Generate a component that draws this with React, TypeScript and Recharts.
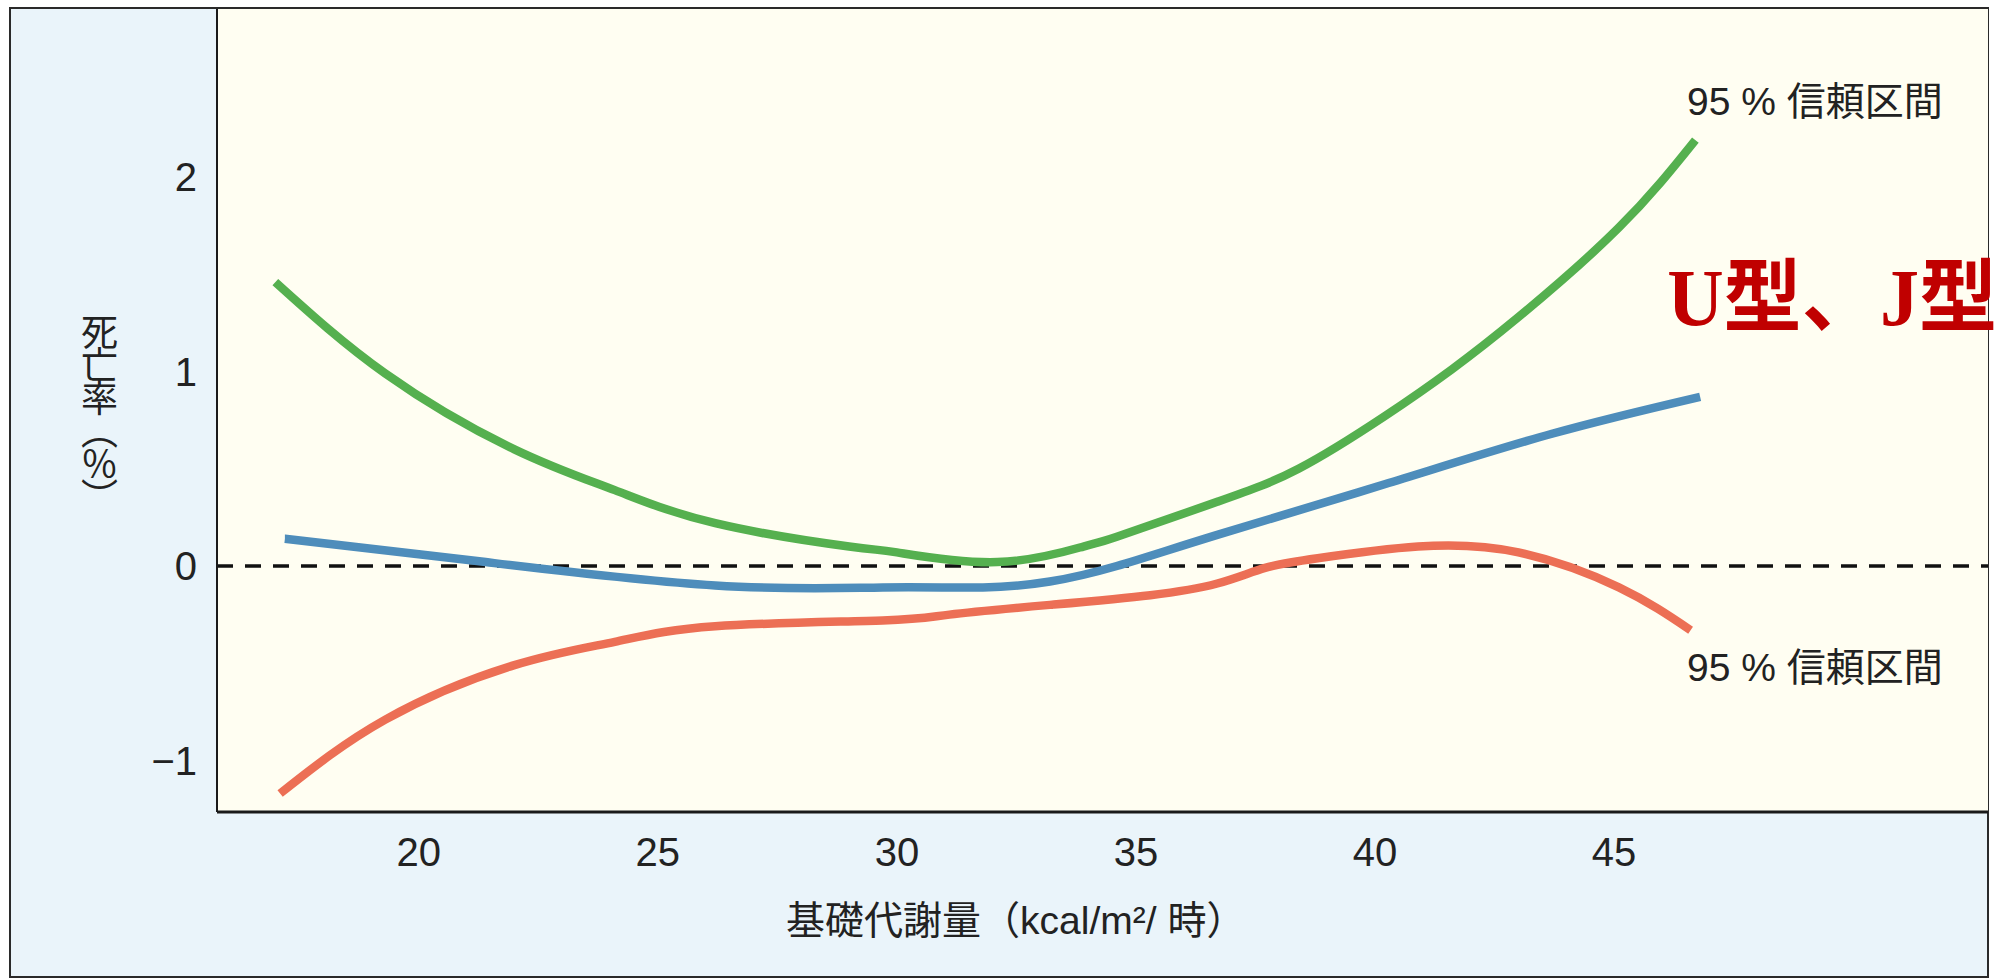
import React from 'react';
import { LineChart, Line, XAxis, YAxis, CartesianGrid, ReferenceLine, ReferenceDot } from 'recharts';

// x-axis: 基礎代謝量 (kcal/m²/時)
const xTicks = [20, 25, 30, 35, 40, 45];
const yTicks = [-1, 0, 1, 2];
const xDomain = [15.78, 52.82];
const yDomain = [-1.265, 2.864];

// upper 95% confidence bound (green)
const upperX = [17.0, 19.3, 22.0, 24.1, 26.2, 29.0, 30.0, 32.1, 33.9, 34.6, 36.7, 38.4, 40.2, 41.6, 43.0, 45.1, 46.7];
const upperY = [1.46, 0.99, 0.60, 0.39, 0.22, 0.10, 0.07, 0.02, 0.10, 0.15, 0.33, 0.50, 0.77, 1.01, 1.28, 1.74, 2.19];

// estimate (blue)
const meanX = [17.2, 18.6, 21.4, 26.2, 29.7, 31.8, 33.2, 34.6, 36.7, 40.2, 43.7, 46.8];
const meanY = [0.14, 0.10, 0.02, -0.10, -0.11, -0.11, -0.08, 0.0, 0.16, 0.42, 0.68, 0.87];

// lower 95% confidence bound (red)
const lowerX = [17.1, 19.3, 22.0, 24.1, 26.2, 29.7, 31.1, 33.2, 35.3, 36.7, 37.7, 38.8, 40.9, 43.0, 45.1, 46.6];
const lowerY = [-1.17, -0.79, -0.51, -0.39, -0.31, -0.28, -0.25, -0.20, -0.15, -0.09, -0.01, 0.04, 0.10, 0.07, -0.11, -0.33];

// annotations [x, y]
const upperLabelPos = [49.2, 2.386];
const lowerLabelPos = [49.2, -0.524];
const shapeLabelPos = [46.11, 1.239];

const ciLabel = '95 % 信頼区間';
const shapeLabel = 'U型、J型';
const xTitle = '基礎代謝量（kcal/m²/ 時）';
const yTitle = '死亡率（％）';

const toPoints = (xs: number[], ys: number[]) => xs.map((x, i) => ({ x, y: ys[i] }));
const upperData = toPoints(upperX, upperY);
const meanData = toPoints(meanX, meanY);
const lowerData = toPoints(lowerX, lowerY);

const SANS = '"Liberation Sans", Arial, "Noto Sans CJK JP", sans-serif';
const SERIF = '"Liberation Serif", "Times New Roman", "Noto Sans CJK JP", serif';

const fmtY = (v: number) => (v < 0 ? '\u2212' + Math.abs(v) : String(v));

const YTitle = (p: any) => {
  const vb = p.viewBox;
  return (
    <text
      x={vb.x - 1}
      y={vb.y + 403}
      textAnchor="middle"
      fontSize={37}
      letterSpacing={-4}
      fill="#222"
      fontFamily={SANS}
      style={{ writingMode: 'vertical-rl' } as any}
    >
      {yTitle}
    </text>
  );
};

const XTitle = (p: any) => {
  const vb = p.viewBox;
  return (
    <text
      x={vb.x + vb.width * 0.451}
      y={vb.y + 108}
      textAnchor="middle"
      dominantBaseline="central"
      fontSize={39}
      fill="#222"
      fontFamily={SANS}
    >
      {xTitle}
    </text>
  );
};

const CiText = (p: any) => (
  <text
    x={p.viewBox.x}
    y={p.viewBox.y}
    textAnchor="middle"
    dominantBaseline="central"
    fontSize={39}
    fill="#222"
    fontFamily={SANS}
  >
    {ciLabel}
  </text>
);

const ShapeText = (p: any) => (
  <text
    x={p.viewBox.x}
    y={p.viewBox.y}
    textAnchor="start"
    fontSize={80}
    fontWeight="bold"
    fill="#c00000"
    fontFamily={SERIF}
    textLength={330}
    lengthAdjust="spacingAndGlyphs"
  >
    {shapeLabel}
  </text>
);

const lineProps = {
  type: 'natural' as const,
  strokeWidth: 8.5,
  dot: false,
  activeDot: false,
  isAnimationActive: false,
  dataKey: 'y',
};

export default function App() {
  return (
    <div style={{ position: 'absolute', left: 0, top: 0, width: 2004, height: 979, overflow: 'hidden', background: '#fff' }}>
      <div
        style={{
          position: 'absolute',
          left: 9,
          top: 7,
          width: 1980,
          height: 971,
          boxSizing: 'border-box',
          border: '2px solid #2a2a2a',
          background: '#eaf4fa',
        }}
      />
      <div style={{ position: 'absolute', left: 0, top: 0 }}>
        <LineChart width={2004} height={979} margin={{ top: 9, right: 16, bottom: 87, left: 97 }}>
          <CartesianGrid horizontal={false} vertical={false} fill="#fffef2" />
          <XAxis
            type="number"
            dataKey="x"
            domain={xDomain}
            allowDataOverflow
            ticks={xTicks}
            height={80}
            tickLine={false}
            tickSize={0}
            tickMargin={26}
            axisLine={{ stroke: '#1a1a1a', strokeWidth: 3 }}
            tick={{ fontSize: 40, fill: '#222', fontFamily: SANS }}
            label={XTitle}
          />
          <YAxis
            type="number"
            dataKey="y"
            domain={yDomain}
            allowDataOverflow
            ticks={yTicks}
            width={120}
            tickLine={false}
            tickSize={0}
            tickMargin={20}
            tickFormatter={fmtY}
            axisLine={{ stroke: '#1a1a1a', strokeWidth: 2 }}
            tick={{ fontSize: 40, fill: '#222', fontFamily: SANS }}
            label={YTitle}
          />
          <ReferenceLine y={0} stroke="#111" strokeWidth={3.5} strokeDasharray="16 12" />
          <Line data={upperData} stroke="#55b04f" {...lineProps} />
          <Line data={meanData} stroke="#4e8dbb" {...lineProps} />
          <Line data={lowerData} stroke="#ec6f55" {...lineProps} />
          <ReferenceDot x={upperLabelPos[0]} y={upperLabelPos[1]} r={0} fill="none" stroke="none" label={CiText} />
          <ReferenceDot x={lowerLabelPos[0]} y={lowerLabelPos[1]} r={0} fill="none" stroke="none" label={CiText} />
          <ReferenceDot x={shapeLabelPos[0]} y={shapeLabelPos[1]} r={0} fill="none" stroke="none" label={ShapeText} />
        </LineChart>
      </div>
    </div>
  );
}
